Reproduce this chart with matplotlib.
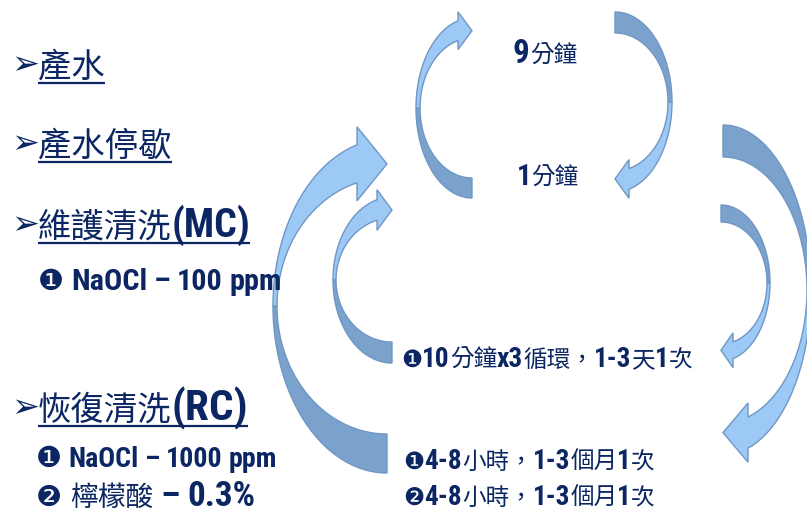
import numpy as np
import matplotlib
matplotlib.use("Agg")
import matplotlib.pyplot as plt
from matplotlib.patches import Polygon
from matplotlib import font_manager

# texts on the slide
steps = ["產水", "產水停歇", "維護清洗(MC)", "恢復清洗(RC)"]
mc_chem = ["❶ NaOCl – 100 ppm"]
rc_chem = ["❶ NaOCl – 1000 ppm", "❷ 檸檬酸 – 0.3%"]
cycle = ["9分鐘", "1分鐘"]
mc_freq = ["❶10分鐘x3循環，1-3天1次"]
rc_freq = ["❶4-8小時，1-3個月1次", "❷4-8小時，1-3個月1次"]

NAVY = "#0B2662"
LIGHT = "#9CC9F6"
DARK = "#7BA2CC"
EDGE = "#7097C4"

# look for a narrow bold latin face, fall back to Liberation Sans Bold
narrow = None
for want in ["Liberation Sans Narrow", "Arial Narrow", "Roboto Condensed",
             "Open Sans Condensed", "DejaVu Sans"]:
    for f in font_manager.fontManager.ttflist:
        if f.name == want and "ondensed" in f.fname + str(f.stretch) + "Narrow" * (want.endswith("Narrow")) \
                and ("Bold" in f.fname or (isinstance(f.weight, int) and f.weight >= 700)):
            narrow = f
            break
    if narrow:
        break
if narrow is None:
    for f in font_manager.fontManager.ttflist:
        if "Narrow" in f.fname and "Bold" in f.fname and "Italic" not in f.fname:
            narrow = f
            break

if narrow is not None:
    LAT = dict(fontproperties=font_manager.FontProperties(fname=narrow.fname))
else:
    LAT = dict(family=["Liberation Sans", "DejaVu Sans"], weight="bold")

FONTS = {
    "cjk": dict(family=["Noto Sans CJK TC", "DejaVu Sans"]),
    "lat": LAT,
    "sym": dict(family=["DejaVu Sans", "Noto Sans CJK TC"]),
}

fig = plt.figure(figsize=(8.07, 5.15), dpi=100)
ax = fig.add_axes([0, 0, 1, 1])
ax.set_xlim(0, 807)
ax.set_ylim(515, 0)
ax.axis("off")
R = fig.canvas.get_renderer()


def crescent(cx, cy, rxo, ryo, rxi, ryi, side, tail, hx, flare):
    st = 1 if tail == "bottom" else -1
    t_tail = st * np.pi / 2
    d = side * (hx - cx)
    tho = -st * np.arccos(d / rxo)
    thi = -st * np.arccos(d / rxi)

    def pts(rx, ry, a, b):
        t = np.linspace(a, b, 80)
        return np.column_stack([cx + side * rx * np.cos(t), cy + ry * np.sin(t)])

    back = np.vstack([pts(rxo, ryo, t_tail, 0), pts(rxi, ryi, 0, t_tail)])
    ax.add_patch(Polygon(back, closed=True, fc=DARK, ec=EDGE, lw=1, zorder=2))

    outer = pts(rxo, ryo, 0, tho)
    inner = pts(rxi, ryi, thi, 0)
    yo, yi = outer[-1, 1], inner[0, 1]
    sg = np.sign(yo - yi)
    head = np.array([[hx, yo + sg * flare], [cx, (yo + yi) / 2], [hx, yi - sg * flare]])
    front = np.vstack([outer, head, inner])
    ax.add_patch(Polygon(front, closed=True, fc=LIGHT, ec=EDGE, lw=1, zorder=3))


# cx, cy, rx_out, ry_out, rx_in, ry_in, side, tail, head_x, flare
arrows = [
    (472, 108, 56, 90, 52, 70, -1, "bottom", 458, 9),
    (615, 102, 57, 90, 53, 69, 1, "top", 629, 9),
    (387, 306, 114, 167, 110, 128, -1, "bottom", 357, 18),
    (392, 280, 59, 83, 56, 62, -1, "bottom", 377, 10),
    (721, 283, 49, 78, 46, 61, 1, "top", 733, 9),
    (723, 290, 88, 165, 84, 133, 1, "top", 748, 14),
]
for a in arrows:
    crescent(*a)


def runs(s):
    out = []
    for ch in s:
        if ch == " ":
            k = "sp"
        elif ch in "❶❷➢":
            k = "sym"
        elif ord(ch) >= 0x2E80:
            k = "cjk"
        else:
            k = "lat"
        if out and out[-1][1] == k and k != "sp":
            out[-1][0] += ch
        else:
            out.append([ch, k])
    return out


def line(s, x0, x1, y, sizes, under=False):
    parts = runs(s)

    def place(scale):
        arts, x, wl = [], x0, 0.0
        for txt, k in parts:
            if k == "sp":
                x += 0.22 * sizes["lat"] * scale * 100 / 72 * len(txt)
                continue
            fs = sizes[k] * (scale if k == "lat" else 1)
            t = ax.text(x, y, txt, va="baseline", ha="left",
                        color=NAVY, zorder=5, **FONTS[k])
            t.set_fontsize(fs)
            bb = t.get_window_extent(R)
            if k == "lat":
                wl += bb.x1 - x
            x = bb.x1
            arts.append(t)
        return arts, x, wl

    arts, xe, wl = place(1.0)
    if x1 is not None and wl > 0:
        k = (x1 - x0 - (xe - x0 - wl)) / wl
        k = min(max(k, 0.6), 1.5)
        for a in arts:
            a.remove()
        arts, xe, wl = place(k)
    if under:
        ax.plot([x0, xe], [y + 6, y + 6], color=NAVY, lw=1.6,
                solid_capstyle="butt", zorder=5)


head_sz = {"cjk": 24, "lat": 25, "sym": 22}
head_pos = [(38, None, 77), (38, None, 156), (38, 250, 237), (38, 248, 420)]
for s, (x0, x1, y) in zip(steps, head_pos):
    ax.text(11, y - 3, "➢", fontsize=24, fontweight="bold", va="baseline",
            ha="left", color=NAVY, zorder=5, family=["DejaVu Sans"])
    line(s, x0, x1, y, head_sz, under=True)

line(mc_chem[0], 38, 285, 290, {"cjk": 20, "lat": 24, "sym": 21})
line(rc_chem[0], 36, 280, 467, {"cjk": 20, "lat": 22, "sym": 21})
line(rc_chem[1], 36, 253, 506, {"cjk": 20, "lat": 22, "sym": 21})

cyc_sz = {"cjk": 17, "lat": 22, "sym": 17}
line(cycle[0], 513, 577, 63, cyc_sz)
line(cycle[1], 517, 579, 185, cyc_sz)

frq_sz = {"cjk": 17, "lat": 22, "sym": 17}
line(mc_freq[0], 401, 693, 367, frq_sz)
line(rc_freq[0], 403, 655, 469, frq_sz)
line(rc_freq[1], 403, 655, 505, frq_sz)

fig.savefig("out.png", dpi=100)
